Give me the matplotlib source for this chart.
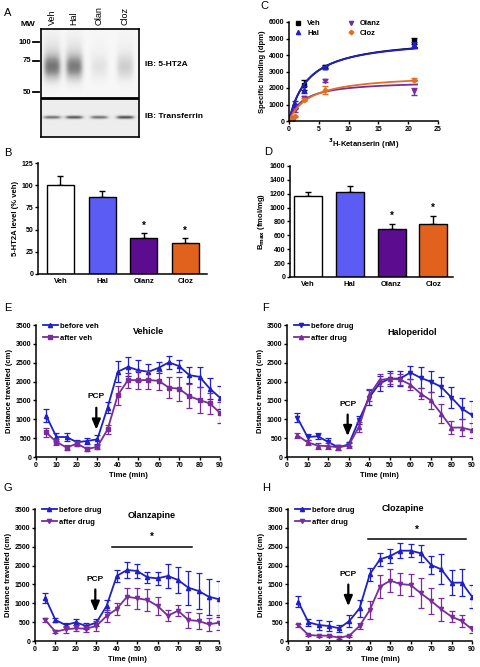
import numpy as np
import matplotlib
matplotlib.use("Agg")
from matplotlib import pyplot as plt

plt.rcParams['font.family'] = ['Liberation Sans', 'DejaVu Sans']
plt.rcParams['font.weight'] = 'bold'
plt.rcParams['axes.labelweight'] = 'bold'

W, H = 480, 667

# ---- data ----
groups = ["Veh", "Hal", "Olanz", "Cloz"]
blot_lanes = ["Veh", "Hal", "Olan", "Cloz"]
mw_marks = [100, 75, 50]
ht2a_band = [0.75, 0.72, 0.18, 0.32]
transferrin_band = [0.55, 0.65, 0.55, 0.70]

ht2a_level = [100, 87, 41, 35]
ht2a_err = [10, 7, 5, 6]
bmax_level = [1170, 1225, 690, 770]
bmax_err = [60, 90, 75, 110]

ketanserin = [0.5, 1, 2.5, 6, 21]
bind_veh = [150, 900, 2200, 3300, 4850]
bind_veh_err = [50, 100, 300, 100, 200]
bind_hal = [200, 1050, 1900, 3250, 4650]
bind_hal_err = [50, 150, 200, 100, 150]
bind_olanz = [150, 650, 1400, 2450, 1800]
bind_olanz_err = [50, 100, 100, 100, 200]
bind_cloz = [150, 280, 1300, 1900, 2500]
bind_cloz_err = [50, 50, 100, 250, 80]
fit_bmax = [5100, 5050, 2450, 2850]
fit_kd = [3.3, 3.2, 2.3, 3.5]

time_min = [5, 10, 15, 20, 25, 30, 35, 40, 45, 50, 55, 60, 65, 70, 75, 80, 85, 90]

veh_before = [1090, 530, 530, 390, 425, 470, 1310, 2260, 2390, 2300, 2260, 2365, 2510, 2410, 2170, 2125, 1815, 1570]
veh_before_err = [170, 100, 110, 60, 80, 120, 150, 280, 250, 280, 200, 150, 170, 150, 220, 270, 290, 300]
veh_after = [650, 400, 250, 355, 210, 270, 730, 1640, 2040, 2040, 2040, 2020, 1840, 1810, 1610, 1510, 1420, 1170]
veh_after_err = [130, 80, 60, 60, 50, 60, 130, 250, 200, 230, 230, 250, 270, 320, 320, 340, 290, 280]

hal_before = [1045, 530, 550, 400, 255, 335, 975, 1577, 1950, 2080, 2080, 2240, 2100, 1995, 1860, 1577, 1285, 1110]
hal_before_err = [110, 80, 80, 100, 60, 50, 100, 200, 200, 200, 200, 180, 280, 280, 250, 280, 280, 380]
hal_after = [575, 390, 300, 290, 255, 310, 800, 1640, 2040, 2080, 2055, 1920, 1680, 1500, 1150, 780, 780, 710]
hal_after_err = [70, 60, 80, 80, 70, 60, 130, 150, 150, 150, 150, 150, 150, 220, 250, 180, 230, 200]

olz_before = [1150, 557, 424, 495, 398, 486, 928, 1724, 1883, 1856, 1688, 1662, 1724, 1617, 1414, 1326, 1175, 1105]
olz_before_err = [130, 60, 60, 80, 80, 100, 150, 150, 200, 180, 150, 170, 320, 350, 450, 470, 480, 480]
olz_after = [557, 247, 309, 336, 327, 398, 663, 848, 1175, 1131, 1087, 928, 672, 804, 557, 530, 442, 486]
olz_after_err = [40, 40, 100, 80, 80, 130, 170, 160, 230, 270, 280, 250, 150, 150, 220, 200, 180, 200]

clz_before = [1043, 495, 424, 398, 336, 530, 866, 1768, 2165, 2254, 2395, 2395, 2325, 2015, 1900, 1547, 1547, 1175]
clz_before_err = [150, 100, 130, 130, 100, 150, 220, 180, 180, 180, 200, 180, 230, 250, 400, 330, 350, 300]
clz_after = [424, 159, 141, 141, 88, 141, 398, 822, 1441, 1600, 1511, 1485, 1264, 1061, 840, 645, 530, 309]
clz_after_err = [40, 30, 30, 30, 30, 30, 80, 250, 300, 300, 300, 300, 400, 350, 300, 150, 150, 100]

BAR_COLORS = ["white", "#5a5cf4", "#5c0c8e", "#e0621c"]
BLUE = "#2020c4"
PURPLE = "#7a2c9c"
ORANGE = "#e07026"

TICK_FS = 5
LABEL_FS = 5.5

fig = plt.figure(figsize=(W / 100, H / 100), dpi=100)


def box(x0, y0, x1, y1):
    return fig.add_axes([x0 / W, 1 - y1 / H, (x1 - x0) / W, (y1 - y0) / H])


def style(ax):
    for s in ["top", "right"]:
        ax.spines[s].set_visible(False)
    for s in ["left", "bottom"]:
        ax.spines[s].set_linewidth(1.1)
    ax.tick_params(labelsize=TICK_FS, width=1, length=2.5, pad=1)
    for lab in ax.get_xticklabels() + ax.get_yticklabels():
        lab.set_fontweight('bold')


def letter(x, y, s):
    fig.text(x / W, 1 - y / H, s, fontsize=8, fontweight='normal', va='center', ha='left')


# ---- A: blot ----
ax = box(41, 29, 139, 137)
xs = np.arange(41, 139, 0.5)
ys = np.arange(29, 137, 0.5)
X, Y = np.meshgrid(xs, ys)
img = np.where(Y < 98, 0.06, 0.14)
lane_x = [52, 74, 99, 125]
for lx, s1, s2 in zip(lane_x, ht2a_band, transferrin_band):
    lane = np.exp(-((X - lx) / 9) ** 4)
    upper = 0.8 * np.exp(-((Y - 67) / 13) ** 2) + 0.2 * np.exp(-((Y - 52) / 22) ** 2)
    img += np.where(Y < 98, 0.8 * s1 * lane * upper, 0)
    img += np.where(Y >= 98, 0.9 * s2 * lane * np.exp(-((Y - 117) / 1.7) ** 2), 0)
ax.imshow(img, cmap='Greys', vmin=0, vmax=1.0, extent=(41, 139, 137, 29), aspect='auto')
ax.set_xlim(41, 139)
ax.set_ylim(137, 29)
ax.set_xticks([])
ax.set_yticks([])
for s in ax.spines.values():
    s.set_linewidth(1.2)
ax.plot([41, 139], [98, 98], color='k', lw=2)
for lx, name in zip(lane_x, blot_lanes):
    ax.text(lx, 25, name, rotation=90, ha='center', va='bottom', fontsize=6.5, fontweight='normal')
ax.text(28, 24, "MW", ha='center', va='center', fontsize=6)
for mw, yy in zip(mw_marks, [42, 61, 92]):
    ax.plot([33, 39], [yy, yy], color='k', lw=1.3, clip_on=False)
    ax.text(31, yy, str(mw), ha='right', va='center', fontsize=5.5)
ax.text(145, 65, "IB: 5-HT2A", ha='left', va='center', fontsize=6)
ax.text(145, 117, "IB: Transferrin", ha='left', va='center', fontsize=6)
letter(4, 13, "A")


# ---- bar panels ----
def bar_panel(ax, vals, errs, ylim, yticks, width, xlim, ylabel, star_pad):
    x = np.arange(len(groups))
    ax.bar(x, vals, width, color=BAR_COLORS, edgecolor='k', linewidth=1, zorder=2)
    ax.errorbar(x, vals, yerr=[np.zeros(len(errs)), errs], fmt='none', ecolor='k',
                elinewidth=1, capsize=2.5, capthick=1, zorder=1)
    for i in [2, 3]:
        ax.text(x[i], vals[i] + errs[i] + star_pad, "*", ha='center', va='center', fontsize=7)
    ax.set_xlim(*xlim)
    ax.set_ylim(*ylim)
    ax.set_yticks(yticks)
    ax.set_xticks(x)
    ax.set_xticklabels(groups)
    ax.set_ylabel(ylabel, fontsize=LABEL_FS, labelpad=2)
    style(ax)
    ax.tick_params(axis='x', length=0, pad=3, labelsize=5.5)


ax = box(38, 163, 207, 274)
bar_panel(ax, ht2a_level, ht2a_err, (0, 125), [0, 25, 50, 75, 100, 125], 0.65,
          (-0.54, 3.52), "5-HT2A level (% veh)", 8)
letter(4, 153, "B")

ax = box(290, 166, 453, 277)
bar_panel(ax, bmax_level, bmax_err, (0, 1600), np.arange(0, 1601, 200), 0.67,
          (-0.43, 3.47), r"B$_{\mathbf{max}}$ (fmol/mg)", 110)
letter(264, 152, "D")

# ---- C: saturation binding ----
ax = box(289, 22, 438, 121)
conc_fine = np.linspace(0, 21.5, 200)
series = [
    (bind_veh, bind_veh_err, 'k', 's', "Veh"),
    (bind_hal, bind_hal_err, BLUE, '^', "Hal"),
    (bind_olanz, bind_olanz_err, PURPLE, 'v', "Olanz"),
    (bind_cloz, bind_cloz_err, ORANGE, 'D', "Cloz"),
]
handles = []
for (vals, errs, col, mk, name), bm, kd in zip(series, fit_bmax, fit_kd):
    ax.plot(conc_fine, bm * conc_fine / (kd + conc_fine), color=col, lw=1.3)
    ax.errorbar(ketanserin, vals, yerr=errs, fmt='none', ecolor=col, elinewidth=1, capsize=2)
    h, = ax.plot(ketanserin, vals, ls='none', marker=mk, color=col,
                 markersize=3 if mk != 'D' else 2.4, label=name)
    handles.append(h)
ax.set_xlim(0, 25)
ax.set_ylim(0, 6000)
ax.set_xticks([0, 5, 10, 15, 20, 25])
ax.set_yticks(np.arange(0, 6001, 1000))
ax.set_ylabel("Specific binding (dpm)", fontsize=LABEL_FS, labelpad=2)
ax.set_xlabel(r"$^{\mathbf{3}}$H-Ketanserin (nM)", fontsize=LABEL_FS, labelpad=3)
style(ax)
ax.legend(handles=handles, ncol=2, loc='upper left', bbox_to_anchor=(0.02, 1.05), frameon=False,
          fontsize=5.5, handlelength=0.8, handletextpad=0.8, columnspacing=3.5,
          labelspacing=0.3, borderaxespad=0)
letter(260, 6, "C")


# ---- locomotor panels ----
def time_panel(ax, before, before_err, after, after_err, mk_b, mk_a, lab_b, lab_a,
               title, title_xy, pcp_y, arrow_top, arrow_tip, sig=None):
    handles = []
    for vals, errs, col, mk, lab in [(before, before_err, BLUE, mk_b, lab_b),
                                     (after, after_err, PURPLE, mk_a, lab_a)]:
        ax.errorbar(time_min, vals, yerr=errs, fmt='none', ecolor=col,
                    elinewidth=0.9, capsize=2, capthick=0.9)
        h, = ax.plot(time_min, vals, color=col, marker=mk, markersize=3, lw=1.3, label=lab)
        handles.append(h)
    ax.set_xlim(0, 90)
    ax.set_ylim(0, 3500)
    ax.set_xticks(np.arange(0, 91, 10))
    ax.set_yticks(np.arange(0, 3501, 500))
    ax.set_xlabel("Time (min)", fontsize=LABEL_FS, labelpad=2)
    ax.set_ylabel("Distance travelled (cm)", fontsize=LABEL_FS, labelpad=2)
    style(ax)
    ax.text(title_xy[0], title_xy[1], title, ha='center', va='center', fontsize=6.5)
    ax.text(29.5, pcp_y, "PCP", ha='center', va='center', fontsize=6)
    ax.annotate("", xy=(29.5, arrow_tip), xytext=(29.5, arrow_top),
                arrowprops=dict(arrowstyle='-|>,head_width=0.25,head_length=0.6', lw=1.6, color='k'))
    if sig is not None:
        ax.plot([sig[0], sig[1]], [sig[2], sig[2]], color='k', lw=1.1)
        ax.text((sig[0] + sig[1]) / 2, sig[2] + 250, "*", ha='center', va='center', fontsize=7)
    ax.legend(handles=handles, loc='upper left', bbox_to_anchor=(0.02, 1.04), frameon=False,
              fontsize=5.5, handlelength=2, handletextpad=0.3, labelspacing=0.55, borderaxespad=0)


ax = box(36, 325, 220, 457)
time_panel(ax, veh_before, veh_before_err, veh_after, veh_after_err, '^', 's',
           "before veh", "after veh", "Vehicle", (55, 3340), 1600, 1380, 650)
letter(4, 308, "E")

ax = box(287, 325, 472, 457)
time_panel(ax, hal_before, hal_before_err, hal_after, hal_after_err, 'v', '^',
           "before drug", "after drug", "Haloperidol", (61, 3290), 1400, 1200, 480)
letter(262, 308, "F")

ax = box(35, 509, 219, 641)
time_panel(ax, olz_before, olz_before_err, olz_after, olz_after_err, '^', 'v',
           "before drug", "after drug", "Olanzapine", (57, 3340), 1640, 1440, 700,
           sig=(37.5, 77, 2500))
letter(4, 488, "G")

ax = box(288, 509, 472, 641)
time_panel(ax, clz_before, clz_before_err, clz_after, clz_after_err, '^', 'v',
           "before drug", "after drug", "Clozapine", (56, 3520), 1750, 1570, 850,
           sig=(39.3, 87, 2695))
letter(262, 488, "H")

fig.savefig("out.png", dpi=100)
